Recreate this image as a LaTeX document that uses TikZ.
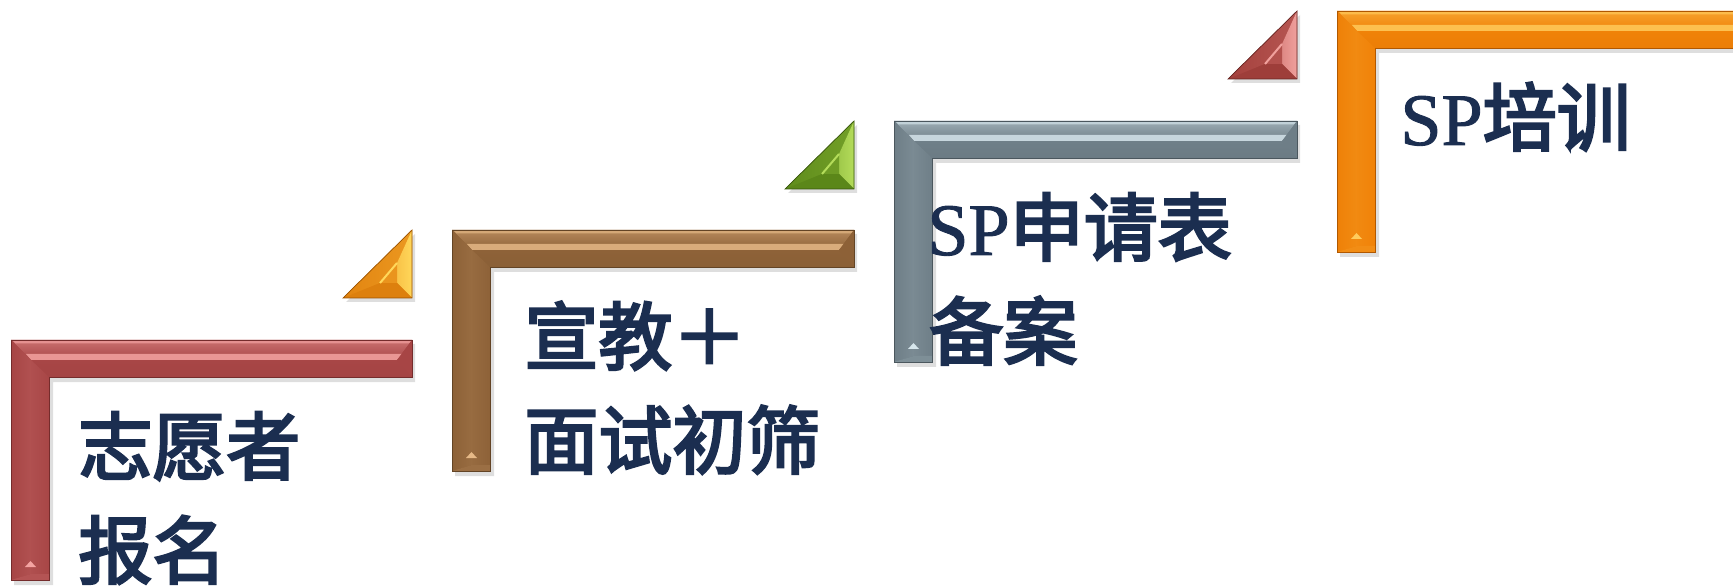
\documentclass[tikz,border=0pt]{standalone}
\usepackage{fontspec}
\setmainfont{Liberation Serif}
\newfontfamily\cjk{Noto Sans CJK SC}[FakeBold=3.5]
\newfontfamily\lat{Liberation Serif}[FakeBold=1.2]
\definecolor{txt}{HTML}{1B2E50}
\definecolor{rL}{HTML}{F4A4A2}\definecolor{rB}{HTML}{A84646}\definecolor{rD}{HTML}{8A3434}
\definecolor{bL}{HTML}{E6B987}\definecolor{bB}{HTML}{8E6238}\definecolor{bD}{HTML}{74502C}
\definecolor{gL}{HTML}{D6E6EC}\definecolor{gB}{HTML}{6F7F88}\definecolor{gD}{HTML}{58666E}
\definecolor{oL}{HTML}{FFCB5C}\definecolor{oB}{HTML}{F08208}\definecolor{oD}{HTML}{D06800}
\definecolor{toL}{HTML}{FFD75A}\definecolor{toB}{HTML}{E68812}\definecolor{toD}{HTML}{C06600}
\definecolor{tgL}{HTML}{B4DC5A}\definecolor{tgB}{HTML}{62901C}\definecolor{tgD}{HTML}{466C10}
\definecolor{trL}{HTML}{F0A09C}\definecolor{trB}{HTML}{A8433F}\definecolor{trD}{HTML}{7E2E2B}
% bevelled L: x0,y0,x1,y1,light,base,dark
\newcommand\bevelL[7]{%
 \fill[black,opacity=.13] ({#1+3},{#2+4}) -- ({#3+3},{#2+4}) -- ({#3+3},{#2+42}) -- ({#1+42},{#2+42}) -- ({#1+42},{#4+5}) -- ({#1+3},{#4+5}) -- cycle;
 \fill[#6] (#1,#2) -- (#3,#2) -- (#3,{#2+37}) -- ({#1+38},{#2+37}) -- ({#1+38},#4) -- (#1,#4) -- cycle;
 \shade[top color=#6, bottom color=#6!85!#7] ({#1+20},{#2+20}) rectangle (#3,{#2+37});
 \shade[left color=#6!90!#5, right color=#6] ({#1+20},{#2+20}) -- ({#1+38},{#2+37}) -- ({#1+38},#4) -- ({#1+20},#4) -- cycle;
 \shade[top color=#6!55!#5, bottom color=#6] (#1,#2) -- (#3,#2) -- ({#3-15},{#2+20}) -- ({#1+20},{#2+20}) -- cycle;
 \fill[#5!85!#6] ({#1+15},{#2+14}) -- ({#3-10},{#2+14}) -- ({#3-15},{#2+20}) -- ({#1+20},{#2+20}) -- cycle;
 \fill[#5!80!#6] ({#1+1.5},{#2+0.5}) -- ({#3-0.5},{#2+0.5}) -- ({#3-3},{#2+3.5}) -- ({#1+4.5},{#2+3.5}) -- cycle;
 \shade[left color=#6!95!#7, right color=#6!88!#5] (#1,#2) -- ({#1+20},{#2+20}) -- ({#1+20},{#4-6}) -- (#1,#4) -- cycle;
 \fill[#6!95!#7] (#3,#2) -- ({#3-15},{#2+20}) -- (#3,{#2+37}) -- cycle;
 \fill[#6!85!#5] (#1,#4) -- ({#1+20},{#4-6}) -- ({#1+38},{#4-6}) -- ({#1+38},#4) -- cycle;
 \fill[#5] ({#1+14},{#4-13}) -- ({#1+25},{#4-13}) -- ({#1+19.5},{#4-19}) -- cycle;
 \draw[#7!85!black, line width=.35pt] (#1,#2) -- (#3,#2) -- (#3,{#2+37}) -- ({#1+38},{#2+37}) -- ({#1+38},#4) -- (#1,#4) -- cycle;
}
% bevelled triangle: x1 (right), yb (bottom), light, base, dark
\newcommand\bevelT[5]{%
 \fill[black,opacity=.13] ({#1-69+3},{#2+4}) -- ({#1+3},{#2+4}) -- ({#1+3},{#2-68+4}) -- cycle;
 \fill[#4] ({#1-69},#2) -- (#1,#2) -- (#1,{#2-68}) -- cycle;
 \shade[left color=#4!90!#5, right color=#4!80!#3] ({#1-69},#2) -- (#1,{#2-68}) -- ({#1-15},{#2-35}) -- ({#1-32},{#2-15}) -- cycle;
 \shade[left color=#3!75!#4, right color=#3] (#1,{#2-68}) -- (#1,#2) -- ({#1-15},{#2-15}) -- ({#1-15},{#2-35}) -- cycle;
 \fill[#4!75!#5] ({#1-69},#2) -- (#1,#2) -- ({#1-15},{#2-15}) -- ({#1-32},{#2-15}) -- cycle;
 \fill[#4!85!#3] ({#1-32},{#2-15}) -- ({#1-15},{#2-15}) -- ({#1-15},{#2-35}) -- cycle;
 \draw[#3, line width=1pt] ({#1-32},{#2-15}) -- ({#1-15},{#2-35});
 \draw[#5!80!black, line width=.35pt] ({#1-69},#2) -- (#1,#2) -- (#1,{#2-68}) -- cycle;
}
\tikzset{lbl/.style={anchor=base west, inner sep=0pt, text=txt, font=\fontsize{37}{44}\selectfont}}
\begin{document}
\begin{tikzpicture}[x=0.5pt, y=-0.5pt]
\path[use as bounding box] (0,0) rectangle (1733,587);
\fill[white] (0,0) rectangle (1733,587);
\clip (0,0) rectangle (1733,587);
% steps
\bevelL{11}{340}{412}{580}{rL}{rB}{rD}
\bevelT{412}{298}{toL}{toB}{toD}
\bevelL{452}{230}{854}{471}{bL}{bB}{bD}
\bevelT{854}{189}{tgL}{tgB}{tgD}
\bevelL{894}{121}{1297}{362}{gL}{gB}{gD}
\bevelT{1297}{79}{trL}{trB}{trD}
\bevelL{1337}{11}{1760}{252}{oL}{oB}{oD}
% labels
\node[lbl] (s1a) at (78,474) {\cjk 志愿者};
\node[lbl] (s1b) at (78,578) {\cjk 报名};
\node[lbl] (s2a) at (524,364) {\cjk 宣教＋};
\node[lbl] (s2b) at (524,468) {\cjk 面试初筛};
\node[lbl] (s3a) at (927,255) {{\lat SP}{\cjk 申请表}};
\node[lbl] (s3b) at (929,359) {\cjk 备案};
\node[lbl] (s4a) at (1400,145) {{\lat SP}{\cjk 培训}};
\end{tikzpicture}
\end{document}
